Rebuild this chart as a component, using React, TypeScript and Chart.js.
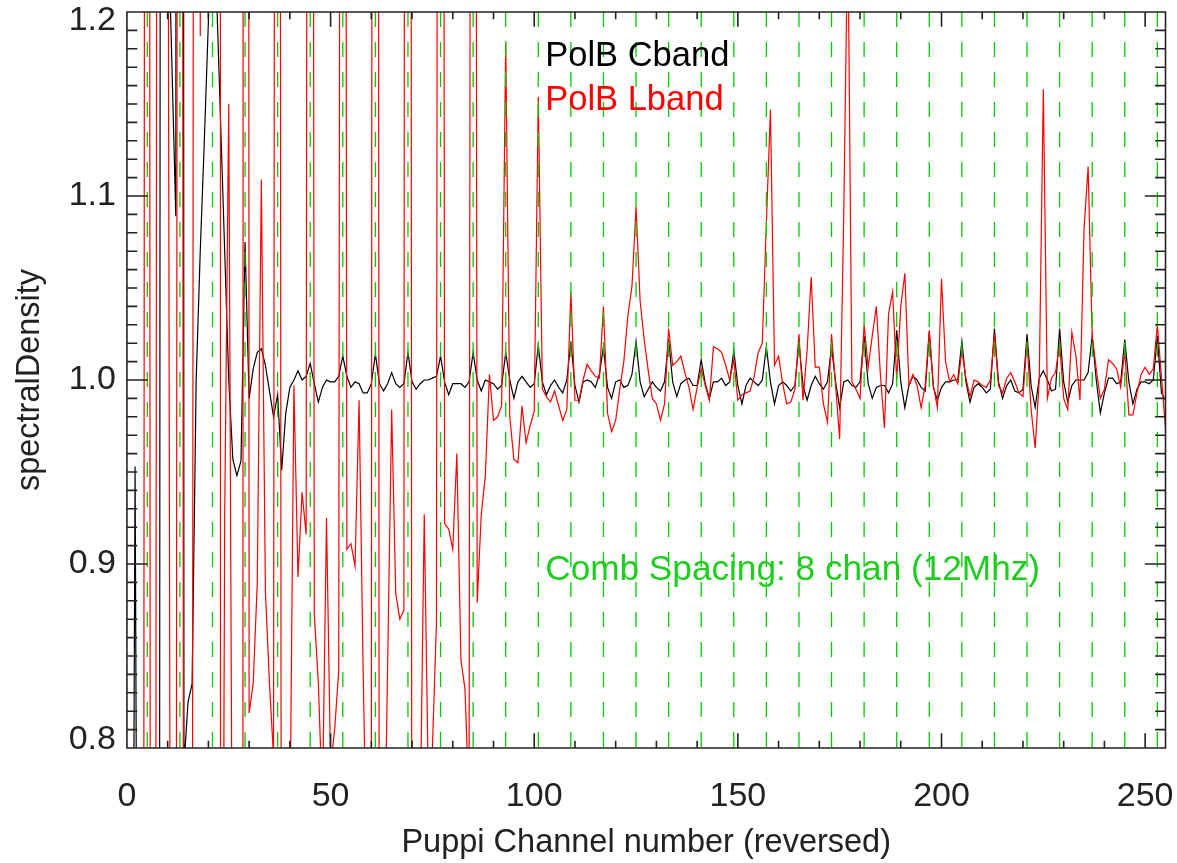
import React, { useEffect, useRef } from 'react';
import { Chart, registerables } from 'chart.js';

Chart.register(...registerables);

// ---- data ----
const polBCband: number[] = [
  0.6, 0.4, 0.953, 0.4, 0.3, 0.5, 0.4, 0.3, 0.7, 4.0, 1.26, 1.175, 1.089, 6.0, 0.79, 0.825,
  0.835, 1.0, 1.07, 1.13, 1.195, 1.4, 1.21, 1.14, 1.07, 1.0, 0.957, 0.948, 0.956, 1.075, 0.99, 1.006,
  1.015, 1.017, 1.008, 0.994, 0.98, 0.992, 0.951, 0.982, 0.996, 1.0, 1.005, 1.0, 1.002, 1.009, 0.998, 0.988,
  0.996, 1.0, 0.999, 0.999, 1.002, 1.013, 1.002, 0.996, 0.999, 0.998, 0.993, 0.993, 0.998, 1.014, 0.998, 0.994,
  0.998, 1.004, 0.998, 0.996, 0.998, 1.015, 0.999, 0.995, 0.998, 1.0, 1.0, 1.001, 1.002, 1.013, 0.999, 0.992,
  0.998, 0.998, 0.998, 0.996, 0.999, 1.015, 1.0, 0.994, 1.0, 0.999, 0.998, 0.995, 0.997, 1.015, 1.0, 0.99,
  0.999, 1.002, 0.999, 0.996, 0.998, 1.019, 0.999, 0.992, 0.997, 1.0, 0.996, 0.993, 1.0, 1.021, 0.997, 0.988,
  0.999, 1.0, 0.999, 0.996, 1.003, 1.018, 0.996, 0.99, 0.999, 1.0, 0.996, 0.997, 1.003, 1.021, 0.999, 0.991,
  0.995, 0.999, 0.996, 0.994, 0.999, 1.022, 0.999, 0.991, 0.998, 1.0, 1.001, 0.997, 0.997, 1.011, 0.998, 0.99,
  0.999, 0.999, 1.001, 0.997, 0.999, 1.016, 0.997, 0.987, 0.997, 1.001, 0.999, 0.997, 1.0, 1.018, 0.999, 0.987,
  0.997, 0.999, 0.997, 0.994, 0.997, 1.02, 0.997, 0.989, 0.997, 1.002, 0.998, 0.995, 0.999, 1.018, 0.999, 0.985,
  0.999, 1.0, 0.997, 0.996, 0.999, 1.024, 0.998, 0.99, 0.996, 0.997, 0.997, 0.993, 0.998, 1.027, 0.999, 0.985,
  0.997, 1.002, 1.0, 0.996, 0.994, 1.026, 0.996, 0.989, 0.996, 0.999, 0.999, 1.0, 1.0, 1.021, 0.999, 0.988,
  0.996, 0.998, 0.996, 0.993, 0.995, 1.028, 0.999, 0.99, 0.997, 1.0, 0.994, 0.993, 0.995, 1.025, 0.997, 0.985,
  1.001, 1.005, 1.0, 0.994, 0.995, 1.028, 0.999, 0.988, 0.997, 1.0, 1.0, 1.0, 1.004, 1.024, 1.0, 0.982,
  0.993, 1.001, 1.001, 0.998, 0.999, 1.022, 0.999, 0.987, 0.995, 0.999, 0.999, 0.998, 1.0, 1.024, 0.993, 0.989,
];

const polBLband: number[] = [
  0.5, 0.3, 0.6, 0.4, 0.3, 3.5, -0.33, 0.5, 3.0, 4.0, 1.4, 0.3, 0.4, 3.0, 0.43, 0.3,
  0.5, 3.0, 1.187, 3.0, 4.0, 6.0, 20.0, 0.3, 0.926, 1.15, 0.65, 0.4, -4.0, 6.0, 0.819, 0.835,
  0.89, 1.109, 0.885, 0.835, 0.795, 3.0, 0.4, 0.5, 0.75, 0.997, 0.893, 0.939, 0.916, 2.8, 0.873, 0.835,
  0.77, 0.925, 0.79, 0.81, 0.842, 2.6, 0.908, 0.911, 0.899, 0.989, 0.842, 0.72, 0.76, 4.0, 0.5, 0.7,
  0.844, 0.984, 0.884, 0.87, 0.875, 4.0, 0.5, 0.5, 0.76, 0.927, 0.78, 0.8, 0.868, 3.0, 0.922, 0.919,
  0.908, 0.96, 0.848, 0.832, 0.77, 2.5, 0.879, 0.927, 0.948, 1.003, 0.978, 0.98, 0.986, 1.184, 0.98, 0.957,
  0.955, 0.986, 0.966, 0.975, 0.983, 1.154, 0.995, 0.991, 0.988, 0.994, 0.986, 0.978, 0.984, 1.048, 0.989, 0.989,
  1.0, 1.0085, 1.005, 1.002, 1.001, 1.04, 0.982, 0.972, 0.978, 0.995, 1.01, 1.035, 1.051, 1.094, 1.043, 1.022,
  1.005, 0.99, 0.987, 0.978, 0.987, 1.028, 1.008, 1.01, 1.013, 1.004, 0.996, 0.984, 0.996, 1.006, 0.997, 0.989,
  1.018, 1.017, 1.015, 1.008, 1.0, 1.011, 0.989, 0.992, 0.993, 0.994, 1.002, 1.015, 1.02, 1.085, 1.147, 1.008,
  1.013, 0.998, 0.987, 0.988, 0.995, 1.025, 0.989, 1.016, 1.056, 1.007, 1.007, 0.987, 0.977, 1.025, 0.997, 0.968,
  1.09, 1.25, 0.999, 0.995, 0.99, 1.03, 1.007, 1.024, 1.04, 1.003, 0.974, 1.036, 1.048, 1.0, 1.04, 1.058,
  0.997, 1.003, 0.997, 0.985, 0.997, 1.027, 0.997, 0.985, 1.055, 1.01, 0.999, 1.003, 0.998, 1.016, 1.001, 0.991,
  1.0, 0.999, 0.997, 0.996, 1.0, 1.025, 0.997, 0.993, 1.001, 1.004, 0.999, 0.993, 0.991, 1.021, 0.984, 0.963,
  1.0, 1.158, 0.99, 1.001, 1.004, 1.02, 0.99, 0.984, 1.026, 1.013, 0.989, 1.082, 1.116, 1.024, 1.006, 0.99,
  0.995, 1.011, 1.009, 1.006, 0.996, 1.016, 0.981, 0.981, 0.993, 1.003, 1.007, 1.003, 1.006, 1.03, 1.002, 0.974,
];

const channels: number[] = polBCband.map((_, i) => i);

const combChannels: number[] = [
  5, 13, 21, 29, 37, 45, 53, 61, 69, 77, 85, 93, 101, 109, 117, 125,
  133, 141, 149, 157, 165, 173, 181, 189, 197, 205, 213, 221, 229, 237, 245, 253,
];

const xTickValues: number[] = [0, 50, 100, 150, 200, 250];
const yTickValues: number[] = [0.8, 0.9, 1.0, 1.1, 1.2];
const xTickLabels: string[] = ['0', '50', '100', '150', '200', '250'];
const yTickLabels: string[] = ['0.8', '0.9', '1.0', '1.1', '1.2'];

const seriesNames: string[] = ['PolB Cband', 'PolB Lband'];
const combLabel = 'Comb Spacing: 8 chan (12Mhz)';

// ---- layout / style ----
const W = 1177;
const H = 863;
const X_MIN = 0;
const X_MAX = 255;
const Y_MIN = 0.8;
const Y_MAX = 1.2;
const FONT = '"Liberation Sans", Arial, Helvetica, sans-serif';
const AXIS_COLOR = '#222222';
const GREEN = '#00cc00';
const TEXT_GREEN = '#1ccf1c';

const annotations = [
  { text: seriesNames[0], x: 102.7, y: 1.1705, color: '#000000', size: 34.5 },
  { text: seriesNames[1], x: 102.7, y: 1.147, color: '#ff0000', size: 34.5 },
  { text: combLabel, x: 102.7, y: 0.8915, color: TEXT_GREEN, size: 35.2 },
];

const boxPlugin = {
  id: 'idlBox',
  afterDatasetsDraw(chart: any) {
    const { ctx, chartArea: a, scales } = chart;
    const xs = scales.x;
    const ys = scales.y;
    ctx.save();
    ctx.strokeStyle = AXIS_COLOR;
    ctx.lineWidth = 1.6;
    ctx.beginPath();
    ctx.rect(a.left, a.top, a.right - a.left, a.bottom - a.top);
    const xMaj = (a.bottom - a.top) * 0.02;
    const yMaj = (a.right - a.left) * 0.02;
    for (let v = 0; v <= X_MAX; v += 10) {
      const px = xs.getPixelForValue(v);
      const len = v % 50 === 0 ? xMaj : xMaj / 2;
      ctx.moveTo(px, a.bottom);
      ctx.lineTo(px, a.bottom - len);
      ctx.moveTo(px, a.top);
      ctx.lineTo(px, a.top + len);
    }
    for (let i = 0; i <= 40; i++) {
      const v = Y_MIN + i * 0.01;
      const py = ys.getPixelForValue(v);
      const len = i % 10 === 0 ? yMaj : yMaj / 2;
      ctx.moveTo(a.left, py);
      ctx.lineTo(a.left + len, py);
      ctx.moveTo(a.right, py);
      ctx.lineTo(a.right - len, py);
    }
    ctx.stroke();
    ctx.restore();
  },
  afterDraw(chart: any) {
    const { ctx, scales } = chart;
    ctx.save();
    ctx.textAlign = 'left';
    ctx.textBaseline = 'alphabetic';
    for (const an of annotations) {
      ctx.font = `${an.size}px ${FONT}`;
      ctx.fillStyle = an.color;
      ctx.fillText(an.text, scales.x.getPixelForValue(an.x), scales.y.getPixelForValue(an.y));
    }
    ctx.restore();
  },
};

export default function App() {
  const ref = useRef<HTMLCanvasElement | null>(null);

  useEffect(() => {
    if (!ref.current) return;
    const combData: any[] = [];
    combChannels.forEach((c) => {
      combData.push({ x: c, y: Y_MAX });
      combData.push({ x: c, y: Y_MIN });
      combData.push({ x: c, y: null });
    });
    const chart = new Chart(ref.current, {
      type: 'line',
      data: {
        datasets: [
          {
            label: 'comb',
            data: combData,
            borderColor: GREEN,
            borderWidth: 1.3,
            borderDash: [15, 15],
            pointRadius: 0,
            spanGaps: false,
            order: 0,
          },
          {
            label: seriesNames[1],
            data: channels.map((c, i) => ({ x: c, y: polBLband[i] })),
            borderColor: '#ff0000',
            borderWidth: 1.2,
            pointRadius: 0,
            tension: 0,
            order: 1,
          },
          {
            label: seriesNames[0],
            data: channels.map((c, i) => ({ x: c, y: polBCband[i] })),
            borderColor: '#000000',
            borderWidth: 1.2,
            pointRadius: 0,
            tension: 0,
            order: 2,
          },
        ],
      },
      options: {
        animation: false,
        responsive: false,
        devicePixelRatio: 1,
        layout: { padding: { top: 12, right: 11.5, left: 0, bottom: 0 } },
        plugins: {
          legend: { display: false },
          tooltip: { enabled: false },
        },
        scales: {
          x: {
            type: 'linear',
            min: X_MIN,
            max: X_MAX,
            grid: { display: false, drawTicks: false },
            border: { display: false },
            afterBuildTicks: (s: any) => {
              s.ticks = xTickValues.map((v) => ({ value: v }));
            },
            afterFit: (s: any) => {
              s.height = H - 748;
              s.paddingLeft = 0;
              s.paddingRight = 0;
            },
            ticks: {
              autoSkip: false,
              maxRotation: 0,
              padding: 28,
              color: '#222222',
              font: { family: FONT, size: 34 },
              callback: (v: any) => xTickLabels[xTickValues.indexOf(Number(v))] ?? '',
            },
            title: {
              display: true,
              text: 'Puppi Channel number (reversed)',
              color: '#222222',
              font: { family: FONT, size: 32.5 },
              padding: { top: 0, bottom: 0 },
            },
          },
          y: {
            type: 'linear',
            min: Y_MIN,
            max: Y_MAX,
            grid: { display: false, drawTicks: false },
            border: { display: false },
            afterBuildTicks: (s: any) => {
              s.ticks = yTickValues.map((v) => ({ value: v }));
            },
            afterFit: (s: any) => {
              s.width = 126.94;
              s.paddingTop = 0;
              s.paddingBottom = 0;
            },
            ticks: {
              autoSkip: false,
              padding: 11,
              color: '#222222',
              font: { family: FONT, size: 34, lineHeight: 0.52 },
              callback: (v: any) => {
                const idx = yTickValues.findIndex((t) => Math.abs(t - Number(v)) < 1e-9);
                if (idx < 0) return '';
                if (idx === 0) return [yTickLabels[idx], ''];
                if (idx === yTickValues.length - 1) return ['', yTickLabels[idx]];
                return yTickLabels[idx];
              },
            },
            title: {
              display: true,
              text: 'spectralDensity',
              color: '#222222',
              font: { family: FONT, size: 32.5 },
              padding: { top: 10.5, bottom: 0 },
            },
          },
        },
      },
      plugins: [boxPlugin],
    } as any);
    return () => chart.destroy();
  }, []);

  return (
    <div style={{ position: 'fixed', left: 0, top: 0, width: W, height: H, background: '#ffffff' }}>
      <canvas ref={ref} width={W} height={H} style={{ width: W, height: H, display: 'block' }} />
    </div>
  );
}
